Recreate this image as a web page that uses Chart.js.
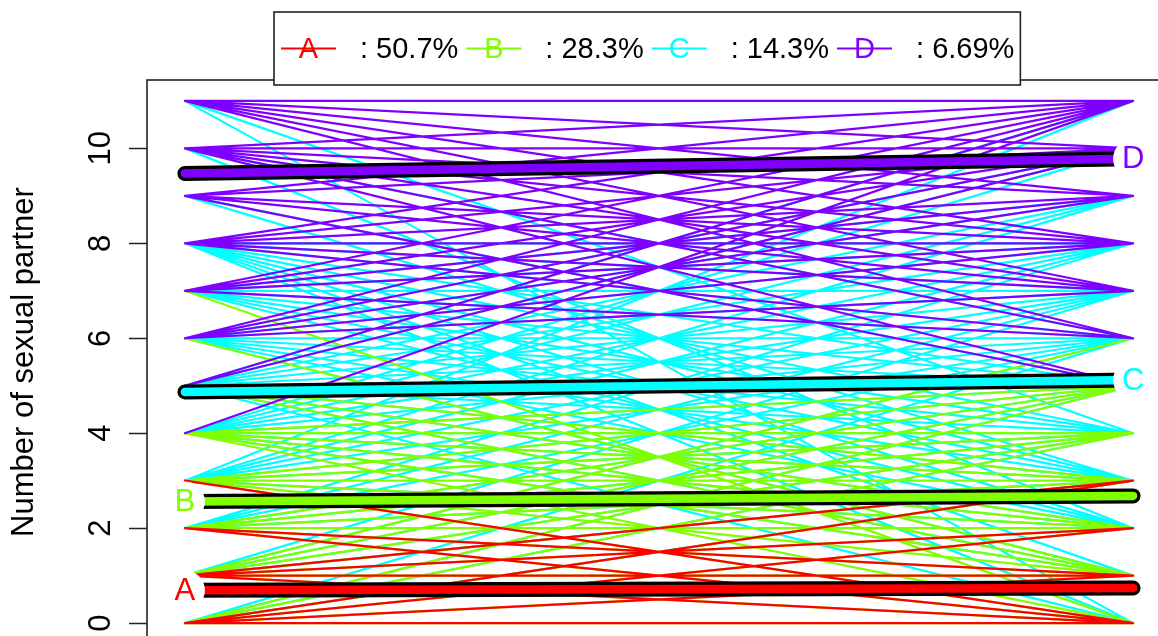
<!DOCTYPE html>
<html>
<head>
<meta charset="utf-8">
<title>Number of sexual partner by cluster</title>
<style>
  html, body { margin: 0; padding: 0; background: #fff; overflow: hidden; }
  #wrap { width: 1158px; height: 636px; overflow: hidden; position: relative; background: #fff; }
  canvas { display: block; }
</style>
<script src="https://cdn.jsdelivr.net/npm/chart.js@4.4.1/dist/chart.umd.min.js"></script>
</head>
<body>
<div id="wrap"><canvas id="chart" width="1200" height="700"></canvas></div>
<script>
// Two measurement times, one trajectory per person.
const TIMES = [1, 2];

// Clusters, their share of people and their colours.
const CLUSTERS = ['A', 'B', 'C', 'D'];
const SHARES = ['50.7%', '28.3%', '14.3%', '6.69%'];
const COLORS = ['#FF0000', '#80FF00', '#00FFFF', '#8000FF'];

// Cluster mean trajectories (value at time 1, value at time 2).
const MEAN_T1 = [0.69, 2.56, 4.87, 9.47];
const MEAN_T2 = [0.74, 2.68, 5.12, 9.78];
// Which time carries the cluster letter (index into TIMES).
const LABEL_AT = [0, 0, 1, 1];

// Axis
const Y_TICKS = [0, 2, 4, 6, 8, 10];
const Y_TITLE = 'Number of sexual partner';

// Individual trajectories [time 1, time 2] per cluster.
const TRAJ_A = [
  [0, 0], [0, 1], [0, 2], [0, 3],
  [1, 0], [1, 1], [1, 2], [1, 3],
  [2, 0], [2, 1],
  [3, 0]
];
const TRAJ_B = [
  [0, 0], [0, 1], [0, 2], [0, 3], [0, 4], [0, 5],
  [1, 0], [1, 1], [1, 2], [1, 3], [1, 4], [1, 5], [1, 6],
  [2, 0], [2, 1], [2, 2], [2, 3], [2, 4], [2, 5],
  [3, 0], [3, 1], [3, 2], [3, 3], [3, 4], [3, 5],
  [4, 0], [4, 1], [4, 2], [4, 3], [4, 4], [4, 5],
  [5, 1], [5, 2], [5, 3],
  [6, 1], [7, 0]
];
const TRAJ_C = [
  [0, 3], [0, 4], [0, 5], [0, 6],
  [1, 3], [1, 4], [1, 5], [1, 6], [1, 7],
  [2, 3], [2, 4], [2, 5], [2, 6], [2, 7], [2, 8],
  [3, 2], [3, 4], [3, 5], [3, 6], [3, 7], [3, 8], [3, 9], [3, 11],
  [4, 1], [4, 2], [4, 3], [4, 4], [4, 5], [4, 6], [4, 7], [4, 8], [4, 9], [4, 10],
  [5, 0], [5, 1], [5, 2], [5, 3], [5, 4], [5, 5], [5, 6], [5, 7], [5, 8], [5, 9], [5, 10], [5, 11],
  [6, 1], [6, 2], [6, 3], [6, 4], [6, 5], [6, 6], [6, 7], [6, 8], [6, 9], [6, 10],
  [7, 2], [7, 3], [7, 4], [7, 5], [7, 6], [7, 7], [7, 8], [7, 9],
  [8, 0], [8, 1], [8, 2], [8, 3], [8, 4], [8, 5], [8, 6], [8, 7], [8, 8],
  [9, 3], [9, 5],
  [10, 2], [10, 6],
  [11, 0], [11, 4]
];
const TRAJ_D = [
  [4, 11],
  [5, 10], [5, 11],
  [6, 7], [6, 8], [6, 9], [6, 10], [6, 11],
  [7, 6], [7, 8], [7, 9], [7, 10], [7, 11],
  [8, 6], [8, 7], [8, 8], [8, 9], [8, 10], [8, 11],
  [9, 5], [9, 7], [9, 8], [9, 10], [9, 11],
  [10, 5], [10, 6], [10, 7], [10, 8], [10, 9], [10, 10], [10, 11],
  [11, 6], [11, 7], [11, 8], [11, 9], [11, 10], [11, 11]
];
const TRAJECTORIES = [TRAJ_A, TRAJ_B, TRAJ_C, TRAJ_D];
// Stacking of the thin trajectories: higher is drawn first (underneath).
const STACK = [2, 4, 5, 3];

const FONT = '"Liberation Sans", Arial, Helvetica, sans-serif';

// One polyline per cluster, each person a separate piece split by a gap.
function trajectoryPoints(pairs) {
  const pts = [];
  pairs.forEach(([a, b]) => {
    pts.push({ x: TIMES[0], y: a }, { x: TIMES[1], y: b }, { x: TIMES[1], y: null });
  });
  return pts;
}

const datasets = [];
CLUSTERS.forEach((name, i) => {
  datasets.push({
    label: name,
    data: trajectoryPoints(TRAJECTORIES[i]),
    borderColor: COLORS[i],
    borderWidth: 2.2,
    order: STACK[i]
  });
});
CLUSTERS.forEach((name, i) => {
  const mean = [{ x: TIMES[0], y: MEAN_T1[i] }, { x: TIMES[1], y: MEAN_T2[i] }];
  datasets.push({ label: name + ' mean outline', data: mean, borderColor: '#000', borderWidth: 15, order: 1 });
  datasets.push({ label: name + ' mean', data: mean, borderColor: COLORS[i], borderWidth: 8.5, order: 0 });
});

// Letters at the labelled end of each mean trajectory, on a white disc.
const clusterLetters = {
  id: 'clusterLetters',
  afterDatasetsDraw(chart) {
    const { ctx, scales: { x, y } } = chart;
    ctx.save();
    CLUSTERS.forEach((name, i) => {
      const t = LABEL_AT[i];
      const px = x.getPixelForValue(TIMES[t]);
      const py = y.getPixelForValue(t === 0 ? MEAN_T1[i] : MEAN_T2[i]);
      ctx.fillStyle = '#fff';
      ctx.beginPath();
      ctx.arc(px, py, 20, 0, Math.PI * 2);
      ctx.fill();
      ctx.fillStyle = COLORS[i];
      ctx.font = '31px ' + FONT;
      ctx.textAlign = 'center';
      ctx.textBaseline = 'middle';
      ctx.fillText(name, px, py + 1);
    });
    ctx.restore();
  }
};

// Plot frame and the horizontal legend box across the top.
const frameAndLegend = {
  id: 'frameAndLegend',
  afterDraw(chart) {
    const { ctx, chartArea: a } = chart;
    ctx.save();
    ctx.strokeStyle = '#222';
    ctx.lineWidth = 1.6;
    ctx.strokeRect(a.left, a.top, a.right - a.left, a.bottom - a.top);

    ctx.font = '29px ' + FONT;
    const seg = 55, segGap = 24, itemGap = 8, padL = 7, padR = 6;
    const bx = 274, by = 12, bh = 73;
    const texts = SHARES.map(s => ': ' + s);
    let bw = padL + padR;
    texts.forEach((t, i) => {
      bw += seg + segGap + ctx.measureText(t).width + (i < texts.length - 1 ? itemGap : 0);
    });
    ctx.fillStyle = '#fff';
    ctx.fillRect(bx, by, bw, bh);
    ctx.strokeRect(bx, by, bw, bh);

    const cy = by + bh / 2;
    let cx = bx + padL;
    texts.forEach((t, i) => {
      ctx.strokeStyle = COLORS[i];
      ctx.lineWidth = 2;
      ctx.beginPath();
      ctx.moveTo(cx, cy);
      ctx.lineTo(cx + seg, cy);
      ctx.stroke();
      ctx.fillStyle = COLORS[i];
      ctx.textAlign = 'center';
      ctx.textBaseline = 'middle';
      ctx.fillText(CLUSTERS[i], cx + seg / 2, cy + 1);
      cx += seg + segGap;
      ctx.fillStyle = '#000';
      ctx.textAlign = 'left';
      ctx.fillText(t, cx, cy + 1);
      cx += ctx.measureText(t).width + itemGap;
    });
    ctx.restore();
  }
};

new Chart(document.getElementById('chart'), {
  type: 'line',
  data: { datasets },
  options: {
    responsive: false,
    devicePixelRatio: 1,
    animation: false,
    events: [],
    layout: { padding: { left: 0, top: 80, right: 29, bottom: 56 } },
    elements: {
      point: { radius: 0, hoverRadius: 0 },
      line: { tension: 0, fill: false, borderCapStyle: 'round', borderJoinStyle: 'round' }
    },
    spanGaps: false,
    plugins: { legend: { display: false }, tooltip: { enabled: false } },
    scales: {
      x: { type: 'linear', min: 0.96, max: 2.04, display: false },
      y: {
        type: 'linear',
        position: 'left',
        min: -0.44,
        max: 11.44,
        afterBuildTicks: s => { s.ticks = Y_TICKS.map(v => ({ value: v })); },
        afterFit: s => { s.width = 147; },
        border: { display: false },
        grid: { drawOnChartArea: false, drawTicks: true, tickLength: 18, tickWidth: 1.5, tickColor: '#222' },
        ticks: {
          autoSkip: false,
          minRotation: 90,
          maxRotation: 90,
          crossAlign: 'center',
          padding: 10,
          color: '#000',
          font: { family: FONT, size: 31 }
        },
        title: {
          display: true,
          text: Y_TITLE,
          color: '#000',
          font: { family: FONT, size: 31 },
          padding: { top: 6, bottom: 0 }
        }
      }
    }
  },
  plugins: [clusterLetters, frameAndLegend]
});
</script>
</body>
</html>
